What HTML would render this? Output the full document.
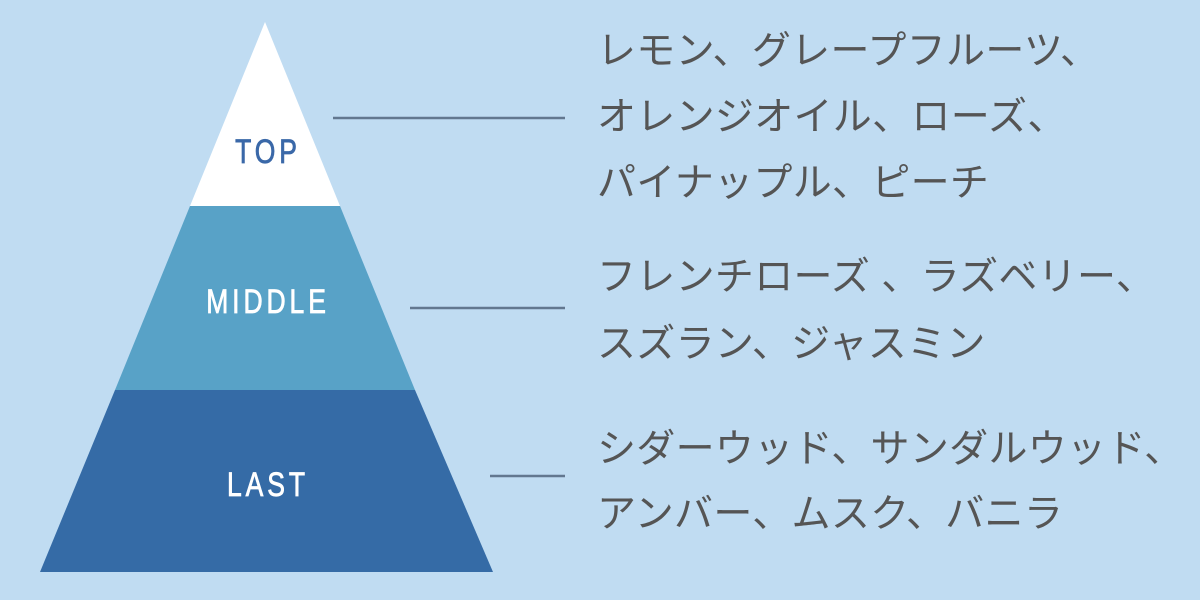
<!DOCTYPE html>
<html><head><meta charset="utf-8"><style>
html,body{margin:0;padding:0;}
body{width:1200px;height:600px;background:#c0dcf2;position:relative;overflow:hidden;font-family:"Liberation Sans","Noto Sans CJK JP",sans-serif;}
.t{position:absolute;left:597px;font-size:39px;color:#555;white-space:nowrap;line-height:1;letter-spacing:0.3px;}
</style></head><body>
<svg width="1200" height="600" style="position:absolute;left:0;top:0">
<polygon points="265,22 340,206 190,206" fill="#ffffff"/>
<polygon points="190,206 340,206 415,390 115,390" fill="#58a2c7"/>
<polygon points="115,390 415,390 493,572 40,572" fill="#356ba6"/>
<line x1="333" y1="118" x2="565" y2="118" stroke="#62778f" stroke-width="2.5"/>
<line x1="410" y1="308" x2="565" y2="308" stroke="#62778f" stroke-width="2.5"/>
<line x1="490" y1="476" x2="565" y2="476" stroke="#62778f" stroke-width="2.5"/>
<g font-family="Liberation Sans Narrow, Liberation Sans, sans-serif" font-size="34" text-anchor="middle" letter-spacing="5" stroke-width="0.8">
<text x="268" y="163" fill="#3a68a8" stroke="#3a68a8" transform="translate(268,0) scale(0.78,1) translate(-268,0)">TOP</text>
<text x="268" y="313" fill="#ffffff" stroke="#ffffff" transform="translate(268,0) scale(0.78,1) translate(-268,0)">MIDDLE</text>
<text x="268" y="496" fill="#ffffff" stroke="#ffffff" transform="translate(268,0) scale(0.78,1) translate(-268,0)">LAST</text>
</g>
</svg>
<div class="t" style="top:32px">レモン、グレープフルーツ、</div>
<div class="t" style="top:98px">オレンジオイル、ローズ、</div>
<div class="t" style="top:164px">パイナップル、ピーチ</div>
<div class="t" style="top:258px">フレンチローズ 、ラズベリー、</div>
<div class="t" style="top:325px">スズラン、ジャスミン</div>
<div class="t" style="top:430px">シダーウッド、サンダルウッド、</div>
<div class="t" style="top:495px">アンバー、ムスク、バニラ</div>
</body></html>
